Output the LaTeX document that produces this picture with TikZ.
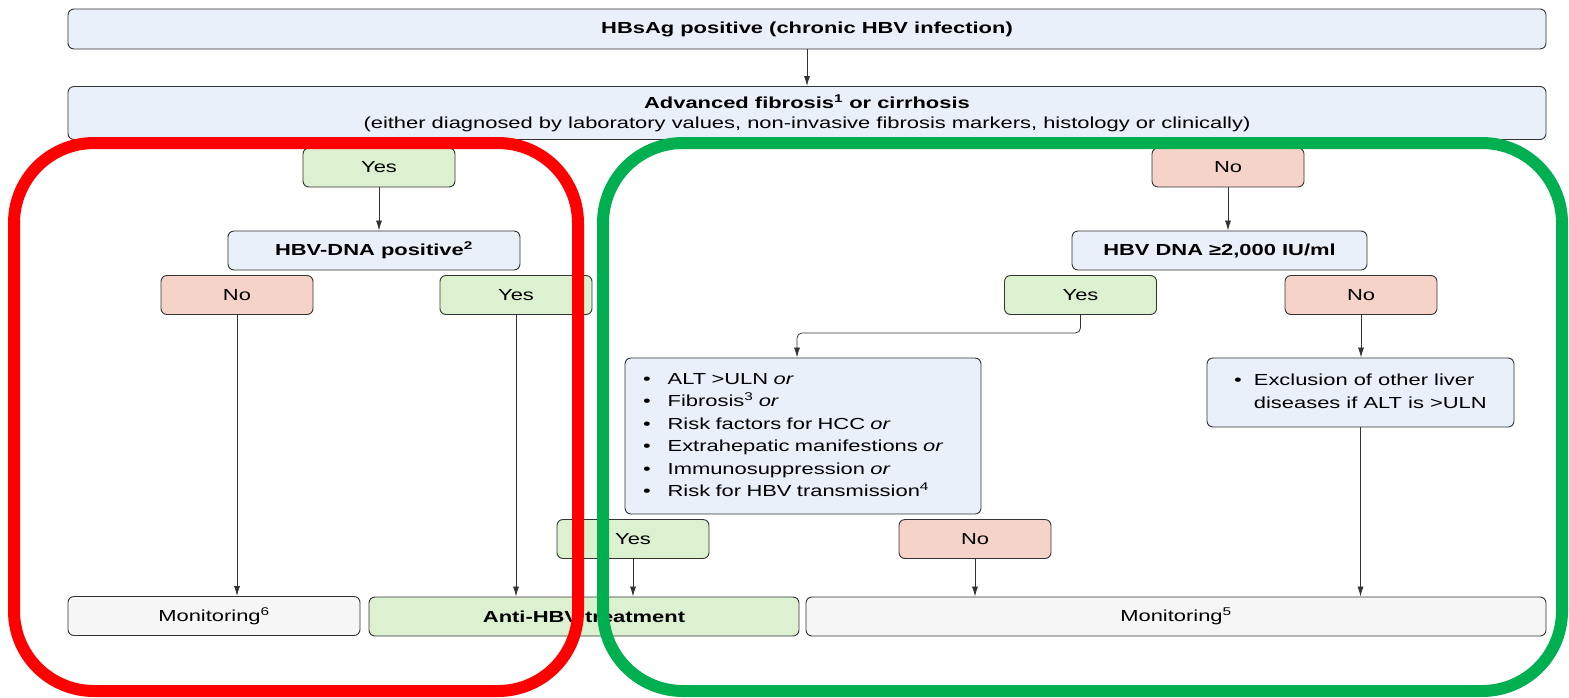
\documentclass[tikz,border=0pt]{standalone}
\usepackage{fontspec}
\setmainfont{Liberation Sans}[FakeStretch=1.37]
\usetikzlibrary{arrows.meta}
\definecolor{boxline}{HTML}{333333}
\definecolor{boxblue}{HTML}{E9F0F9}
\definecolor{yesgreen}{HTML}{DCF1D0}
\definecolor{nored}{HTML}{F5D3C8}
\definecolor{endgray}{HTML}{F6F6F6}
\definecolor{hlred}{HTML}{FF0000}
\definecolor{hlgreen}{HTML}{00B050}
\begin{document}
\begin{tikzpicture}[x=1pt,y=-1pt,
    every node/.style={font=\fontsize{16}{22.5}\selectfont},
    bold/.style={font=\fontsize{16}{22.5}\selectfont\bfseries},
    box/.style={rectangle,rounded corners=6pt,draw=boxline,line width=0.9pt,inner sep=0pt},
    infobox/.style={box,fill=boxblue},
    yesbox/.style={box,fill=yesgreen,minimum width=152pt,minimum height=39pt},
    nobox/.style={box,fill=nored,minimum width=152pt,minimum height=39pt},
    endbox/.style={box,fill=endgray,minimum height=39pt},
    arr/.style={-{Latex[length=10pt,width=6pt]},draw=boxline,line width=0.8pt},
    frame/.style={rounded corners=80pt,line width=12pt}]
  \useasboundingbox (0,0) rectangle (1569,697);
  \node[infobox,bold,minimum width=1478pt,minimum height=40pt] (hbsag) at (807,29) {HBsAg positive (chronic HBV infection)};
  \node[infobox,align=center,minimum width=1478pt,minimum height=53pt,font=\fontsize{16}{20}\selectfont] (fib) at (807,113)
    {\textbf{Advanced fibrosis\textsuperscript{1} or cirrhosis}\\(either diagnosed by laboratory values, non-invasive fibrosis markers, histology or clinically)};
  % cirrhosis branch
  \node[yesbox] (yesA) at (379,167.5) {Yes};
  \node[infobox,bold,minimum width=292pt,minimum height=39pt] (dnaA) at (374,250.5) {HBV-DNA positive\textsuperscript{2}};
  \node[nobox] (noA) at (237,295) {No};
  \node[yesbox] (yesB) at (516,295) {Yes};
  \node[endbox,minimum width=292pt] (monA) at (214,616) {Monitoring\textsuperscript{6}};
  \node[box,bold,fill=yesgreen,minimum width=430pt,minimum height=39pt] (treat) at (584,616.5) {Anti-HBV treatment};
  % no cirrhosis branch
  \node[nobox] (noB) at (1228,167.5) {No};
  \node[infobox,bold,minimum width=295pt,minimum height=39pt] (dnaB) at (1219.5,250.5) {HBV DNA ≥2,000 IU/ml};
  \node[yesbox] (yesD) at (1080.5,295) {Yes};
  \node[nobox] (noC) at (1361,295) {No};
  \node[infobox,minimum width=356pt,minimum height=156pt,text width=320pt,align=left] (alt) at (803,436)
    {\begin{tabular}{@{}l@{\hspace{17pt}}l@{}}
      • & ALT >ULN \textit{or}\\
      • & Fibrosis\textsuperscript{3} \textit{or}\\
      • & Risk factors for HCC \textit{or}\\
      • & Extrahepatic manifestions \textit{or}\\
      • & Immunosuppression \textit{or}\\
      • & Risk for HBV transmission\textsuperscript{4}
    \end{tabular}};
  \node[infobox,minimum width=307pt,minimum height=69pt,font=\fontsize{16}{23.5}\selectfont] (excl) at (1360.5,392.5)
    {\begin{tabular}{@{}l@{\hspace{12pt}}l@{}}
      • & Exclusion of other liver\\
      \textcolor{boxblue}{•} & diseases if ALT is >ULN
    \end{tabular}};
  \node[yesbox] (yesC) at (633,539) {Yes};
  \node[nobox] (noD) at (975,539) {No};
  \node[endbox,minimum width=740pt] (monB) at (1176,616.5) {Monitoring\textsuperscript{5}};
  % connectors
  \draw[arr] (hbsag) -- (fib);
  \draw[arr] (yesA.south) -- (yesA.south |- dnaA.north);
  \draw[arr] (noA.south) -- (noA.south |- monA.north);
  \draw[arr] (yesB.south) -- (yesB.south |- treat.north);
  \draw[arr] (noB.south) -- (noB.south |- dnaB.north);
  \draw[arr,rounded corners=5pt] (yesD.south) -- ++(0,18) -| ([xshift=-6pt]alt.north);
  \draw[arr] (noC.south) -- (noC.south |- excl.north);
  \draw[arr] (yesC.south) -- (yesC.south |- treat.north);
  \draw[arr] (noD.south) -- (noD.south |- monB.north);
  \draw[arr] (excl.south) -- (excl.south |- monB.north);
  % highlight frames
  \draw[frame,draw=hlred] (14,143) rectangle (578,691);
  \draw[frame,draw=hlgreen] (603,143) rectangle (1562,691);
\end{tikzpicture}
\end{document}
